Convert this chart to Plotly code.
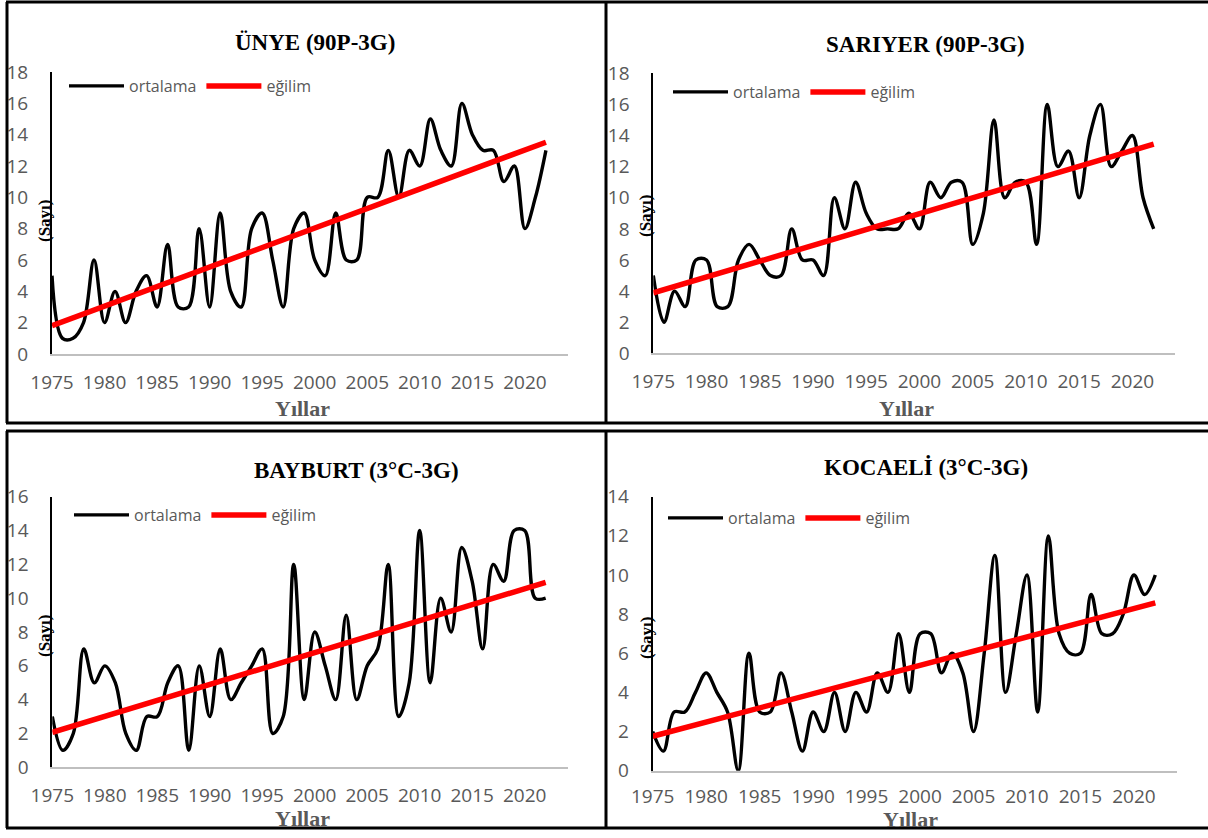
import numpy as np
import plotly.graph_objects as go

# ---------------- data ----------------
years = list(range(1975, 2023))
tick_years = [1975, 1980, 1985, 1990, 1995, 2000, 2005, 2010, 2015, 2020]

unye = [5, 1, 1, 2, 6, 2, 4, 2, 4, 5,
        3, 7, 3, 3, 8, 3, 9, 4, 3, 8,
        9, 6, 3, 8, 9, 6, 5, 9, 6, 6,
        10, 10, 13, 10, 13, 12, 15, 13, 12, 16,
        14, 13, 13, 11, 12, 8, 10, 13]
sariyer = [5, 2, 4, 3, 6, 6, 3, 3, 6, 7,
           6, 5, 5, 8, 6, 6, 5, 10, 8, 11,
           9, 8, 8, 8, 9, 8, 11, 10, 11, 11,
           7, 9, 15, 10, 11, 11, 7, 16, 12, 13,
           10, 14, 16, 12, 13, 14, 10, 8]
bayburt = [3, 1, 2, 7, 5, 6, 5, 2, 1, 3,
           3, 5, 6, 1, 6, 3, 7, 4, 5, 6,
           7, 2, 3, 12, 4, 8, 6, 4, 9, 4,
           6, 7, 12, 3, 5, 14, 5, 10, 8, 13,
           11, 7, 12, 11, 14, 14, 10, 10]
kocaeli = [2, 1, 3, 3, 4, 5, 4, 3, 0, 6,
           3, 3, 5, 3, 1, 3, 2, 4, 2, 4,
           3, 5, 4, 7, 4, 7, 7, 5, 6, 5,
           2, 6, 11, 4, 7, 10, 3, 12, 7, 6,
           6, 9, 7, 7, 8, 10, 9, 10]

titles = ["ÜNYE (90P-3G)", "SARIYER (90P-3G)", "BAYBURT (3°C-3G)", "KOCAELİ (3°C-3G)"]
series = [unye, sariyer, bayburt, kocaeli]
y_max = [18, 18, 16, 14]
legend_names = ["ortalama", "eğilim"]
x_title = "Yıllar"
y_title = "(Sayı)"

# ---------------- layout geometry (pixels) ----------------
W, H = 1208, 838
def px(x):
    return x / W
def py(y):
    return 1 - y / H

# plot areas: (x_left, x_right, y_bottom, y_top, x range end)
areas = [
    (52.0, 568.0, 354.0, 72.0, 2024.1),
    (653.3, 1175.0, 353.3, 73.3, 2024.0),
    (52.3, 567.7, 767.3, 496.7, 2024.1),
    (652.7, 1176.7, 770.7, 496.7, 2024.0),
]
x_standoff = [10, 10, 10, 8]
title_pos = [(315, 42), (925, 45), (356, 470), (926, 467)]
xtitle_pos = [(302, 408), (906, 408), (302, 818), (910, 819)]
ytitle_pos = [(45, 221), (645, 216), (44, 636), (646, 638)]
legend_pos = [(64, 86), (668, 92), (69, 515), (663, 518)]

GRAY = "#595959"
fig = go.Figure()
annotations = []
layout = {}

for i in range(4):
    n = "" if i == 0 else str(i + 1)
    xa, ya = "x" + n, "y" + n
    lg = "legend" + n
    vals = np.array(series[i], dtype=float)
    slope, icpt = np.polyfit(np.array(years, dtype=float), vals, 1)
    trend = slope * np.array(years, dtype=float) + icpt

    fig.add_trace(go.Scatter(
        x=years, y=series[i], mode="lines", name=legend_names[0],
        line=dict(color="black", width=3.4, shape="spline", smoothing=1.0),
        xaxis=xa, yaxis=ya, legend=lg, showlegend=True))
    fig.add_trace(go.Scatter(
        x=years, y=trend, mode="lines", name=legend_names[1],
        line=dict(color="#FF0000", width=5.5),
        xaxis=xa, yaxis=ya, legend=lg, showlegend=True))

    xl, xr, yb, yt, xend = areas[i]
    layout["xaxis" + n] = dict(
        domain=[px(xl), px(xr)], range=[1975, xend], anchor=ya,
        tickmode="array", tickvals=tick_years, ticks="",
        showgrid=False, zeroline=False, showline=True,
        linecolor="#BFBFBF", linewidth=1.5, automargin=False,
        tickfont=dict(family="Open Sans", size=19, color=GRAY),
        ticklabelstandoff=x_standoff[i], fixedrange=True)
    layout["yaxis" + n] = dict(
        domain=[py(yb), py(yt)], range=[0, y_max[i]], anchor=xa,
        dtick=2, ticks="", showgrid=False, zeroline=False, showline=True,
        linecolor="black", linewidth=2, automargin=False,
        tickfont=dict(family="Open Sans", size=19, color=GRAY),
        ticklabelstandoff=18, fixedrange=True)
    lx, ly = legend_pos[i]
    layout[lg] = dict(
        x=px(lx), y=py(ly), xanchor="left", yanchor="middle",
        orientation="h", bgcolor="rgba(0,0,0,0)", borderwidth=0,
        font=dict(family="Open Sans", size=16, color=GRAY),
        itemwidth=55, tracegroupgap=0, itemclick=False, itemdoubleclick=False)

    tx, ty = title_pos[i]
    annotations.append(dict(
        text="<b>" + titles[i] + "</b>", x=px(tx), y=py(ty), xref="paper", yref="paper",
        xanchor="center", yanchor="middle", showarrow=False,
        font=dict(family="Liberation Serif", size=23, color="black")))
    tx, ty = xtitle_pos[i]
    annotations.append(dict(
        text="<b>" + x_title + "</b>", x=px(tx), y=py(ty), xref="paper", yref="paper",
        xanchor="center", yanchor="middle", showarrow=False,
        font=dict(family="Liberation Serif", size=22, color=GRAY)))
    tx, ty = ytitle_pos[i]
    annotations.append(dict(
        text="<b>" + y_title + "</b>", x=px(tx), y=py(ty), xref="paper", yref="paper",
        xanchor="center", yanchor="middle", showarrow=False, textangle=-90,
        font=dict(family="Liberation Serif", size=17, color="black")))

# panel borders
shapes = []
def hline(y, x0, x1):
    shapes.append(dict(type="line", xref="paper", yref="paper",
                       x0=px(x0), x1=px(x1), y0=py(y), y1=py(y),
                       line=dict(color="black", width=3)))
def vline(x, y0, y1):
    shapes.append(dict(type="line", xref="paper", yref="paper",
                       x0=px(x), x1=px(x), y0=py(y0), y1=py(y1),
                       line=dict(color="black", width=3)))
for (t, b) in [(2, 423), (431, 828)]:
    hline(t, 6, 1210)
    hline(b, 6, 1210)
    vline(7, t, b)
    vline(606, t, b)

fig.update_layout(
    width=W, height=H, margin=dict(l=0, r=0, t=0, b=0, autoexpand=False),
    paper_bgcolor="white", plot_bgcolor="white",
    annotations=annotations, shapes=shapes, **layout)

fig.write_html("out.html", config={"displayModeBar": False},
               post_script="document.body.style.margin='0px';document.body.style.padding='0px';")
